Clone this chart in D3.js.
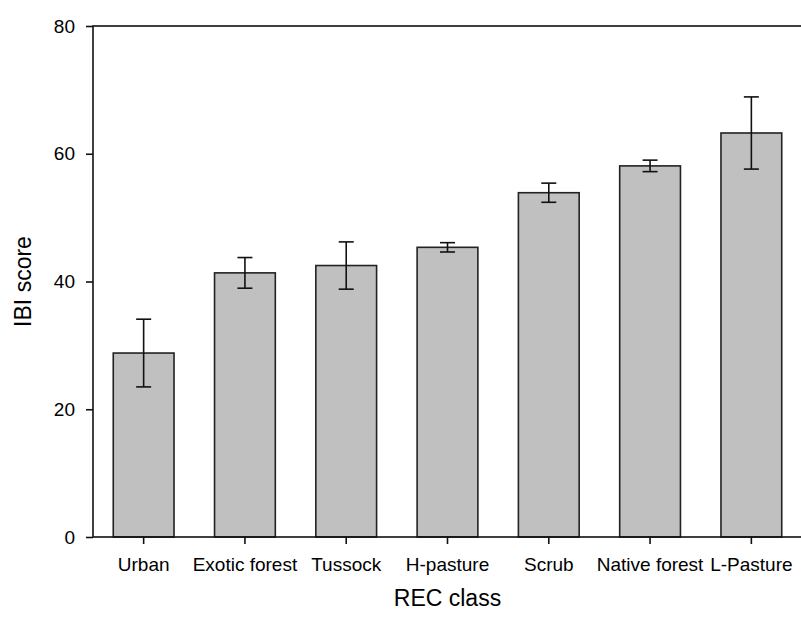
<!DOCTYPE html>
<html>
<head>
<meta charset="utf-8">
<script src="https://cdn.jsdelivr.net/npm/d3@7/dist/d3.min.js"></script>
<style>
  html, body { margin: 0; padding: 0; background: #fff; }
  svg { display: block; font-family: "Liberation Sans", Arial, sans-serif; }
</style>
</head>
<body>
<svg id="chart" width="801" height="617"></svg>
<script>
// REC classes and their mean IBI score with error half-widths
const categories = ["Urban", "Exotic forest", "Tussock", "H-pasture", "Scrub", "Native forest", "L-Pasture"];
const means = [28.8, 41.35, 42.5, 45.35, 53.9, 58.1, 63.25];
const errors = [5.3, 2.4, 3.7, 0.73, 1.5, 0.9, 5.65];
const yTicks = [0, 20, 40, 60, 80];

const data = categories.map((c, i) => ({ cat: c, mean: means[i], err: errors[i] }));

const svg = d3.select("#chart");
const plotLeft = 93, plotRight = 802, plotTop = 26, plotBottom = 537;

const x = d3.scaleBand().domain(categories).range([plotLeft, plotRight])
  .paddingInner(0.4).paddingOuter(0.2);
const y = d3.scaleLinear().domain([0, 80]).range([plotBottom, plotTop]);

// bars
svg.append("g").selectAll("rect").data(data).join("rect")
  .attr("x", d => x(d.cat))
  .attr("y", d => y(d.mean))
  .attr("width", x.bandwidth())
  .attr("height", d => y(0) - y(d.mean))
  .attr("fill", "#c0c0c0")
  .attr("stroke", "#222")
  .attr("stroke-width", 1.6);

// error bars
const eg = svg.append("g").attr("stroke", "#111").attr("stroke-width", 1.6);
const cap = 7.5;
data.forEach(d => {
  const cx = x(d.cat) + x.bandwidth() / 2;
  eg.append("line").attr("x1", cx).attr("x2", cx)
    .attr("y1", y(d.mean + d.err)).attr("y2", y(d.mean - d.err));
  [d.mean + d.err, d.mean - d.err].forEach(v => {
    eg.append("line").attr("x1", cx - cap).attr("x2", cx + cap)
      .attr("y1", y(v)).attr("y2", y(v));
  });
});

// frame
svg.append("rect")
  .attr("x", plotLeft).attr("y", plotTop)
  .attr("width", plotRight - plotLeft).attr("height", plotBottom - plotTop)
  .attr("fill", "none").attr("stroke", "#111").attr("stroke-width", 1.6);

// y axis
const yAxis = d3.axisLeft(y).tickValues(yTicks).tickSize(7).tickPadding(11);
const ya = svg.append("g").attr("transform", `translate(${plotLeft},0)`).call(yAxis);
ya.select(".domain").remove();
ya.selectAll(".tick line").attr("stroke", "#111").attr("stroke-width", 1.6);
ya.selectAll(".tick text").attr("font-size", 19).attr("fill", "#000")
  .attr("font-family", "Liberation Sans, Arial, sans-serif");

// x axis
const xAxis = d3.axisBottom(x).tickSize(7).tickPadding(14);
const xa = svg.append("g").attr("transform", `translate(0,${plotBottom})`).call(xAxis);
xa.select(".domain").remove();
xa.selectAll(".tick line").attr("stroke", "#111").attr("stroke-width", 1.6);
xa.selectAll(".tick text").attr("font-size", 19).attr("fill", "#000")
  .attr("font-family", "Liberation Sans, Arial, sans-serif");

// axis titles
svg.append("text")
  .attr("x", (plotLeft + plotRight) / 2).attr("y", 606)
  .attr("text-anchor", "middle").attr("font-size", 23).attr("fill", "#000")
  .text("REC class");

svg.append("text")
  .attr("transform", `translate(31,${(plotTop + plotBottom) / 2}) rotate(-90)`)
  .attr("text-anchor", "middle").attr("font-size", 23).attr("fill", "#000")
  .text("IBI score");
</script>
</body>
</html>
